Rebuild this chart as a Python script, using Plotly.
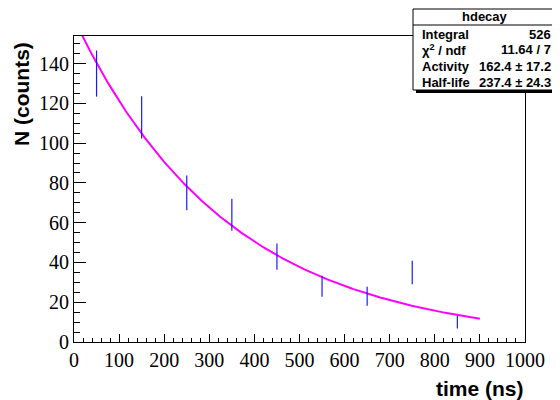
import numpy as np
import plotly.graph_objects as go

# ---- data ----
bin_centers = [50, 150, 250, 350, 450, 550, 650, 750, 850]
counts = [135, 113, 75, 64, 43, 28, 23, 35, 10]
count_errors = [11.6, 10.6, 8.7, 8.0, 6.6, 5.3, 4.8, 5.9, 3.2]

fit_activity = 162.4
fit_half_life = 237.4
fit_t_max = 900

stats_title = "hdecay"
stats_labels = ["Integral", "χ<sup>2</sup> / ndf", "Activity", "Half-life"]
stats_values = ["526", "11.64 / 7", "162.4 ± 17.2", "237.4 ± 24.3"]

x_range = [0, 1000]
y_range = [0, 153.9]

# ---- layout geometry (reference pixels; page body adds an 8px offset) ----
OFF = 8
W, H = 560 - OFF, 400 - OFF
PL, PR, PT, PB = 74, 525, 36, 342


def px(x):
    return (x - PL) / (PR - PL)


def py(y):
    return (PB - y) / (PB - PT)


fit_t = np.linspace(0, fit_t_max, 400)
fit_y = fit_activity * np.exp(-fit_t * np.log(2) / fit_half_life)

fig = go.Figure()
fig.add_trace(go.Scatter(
    x=fit_t, y=fit_y, mode="lines",
    line=dict(color="#ff00ff", width=2), hoverinfo="skip", showlegend=False,
))
fig.add_trace(go.Scatter(
    x=bin_centers, y=counts, mode="markers",
    marker=dict(size=1, color="rgba(0,0,0,0)"),
    error_y=dict(type="data", array=count_errors, visible=True,
                 color="#1a1aff", thickness=1.2, width=0),
    showlegend=False,
))

tickfont = dict(family="Times New Roman", size=20, color="black")
fig.update_xaxes(
    range=x_range, dtick=100, tick0=0, ticks="inside", ticklen=8, tickwidth=1,
    tickcolor="black", showline=True, linecolor="black", linewidth=1, mirror=True,
    showgrid=False, zeroline=False, tickfont=tickfont,
    minor=dict(dtick=20, ticks="inside", ticklen=4, tickcolor="black", showgrid=False),
)
fig.update_yaxes(
    range=y_range, dtick=20, tick0=0, ticks="inside", ticklen=12, tickwidth=1,
    tickcolor="black", showline=True, linecolor="black", linewidth=1, mirror=True,
    showgrid=False, zeroline=False, tickfont=tickfont,
    minor=dict(dtick=5, ticks="inside", ticklen=6, tickcolor="black", showgrid=False),
)

bold = dict(family="Liberation Sans, Arial, sans-serif", size=21, color="black")
annotations = [
    dict(text="<b>N (counts)</b>", textangle=-90, x=px(21), y=py(94),
         xref="paper", yref="paper", showarrow=False, xanchor="center", yanchor="middle",
         font=bold),
    dict(text="<b>time (ns)</b>", x=px(526), y=py(388),
         xref="paper", yref="paper", showarrow=False, xanchor="right", yanchor="middle",
         font=bold),
]

# stats box
BX0, BX1, BY0, BY1 = 413, 556, 9, 90
shapes = [
    dict(type="rect", xref="paper", yref="paper", x0=px(BX0 + 3), x1=px(BX1 + 3),
         y0=py(BY0 + 3), y1=py(BY1 + 3), fillcolor="black", line=dict(width=0), layer="above"),
    dict(type="rect", xref="paper", yref="paper", x0=px(BX0), x1=px(BX1),
         y0=py(BY0), y1=py(BY1), fillcolor="white", line=dict(color="black", width=1),
         layer="above"),
    dict(type="line", xref="paper", yref="paper", x0=px(BX0), x1=px(BX1),
         y0=py(25), y1=py(25), line=dict(color="black", width=1), layer="above"),
]
sfont = dict(family="Liberation Sans, Arial, sans-serif", size=13, color="black")
annotations.append(dict(text="<b>" + stats_title + "</b>", x=px((BX0 + BX1) / 2), y=py(16),
                        xref="paper", yref="paper", showarrow=False, xanchor="center",
                        yanchor="middle", font=sfont))
row_y = [34, 50, 66, 82]
for lab, val, ry in zip(stats_labels, stats_values, row_y):
    annotations.append(dict(text="<b>" + lab + "</b>", x=px(420), y=py(ry), xref="paper",
                            yref="paper", showarrow=False, xanchor="left", yanchor="middle",
                            font=sfont))
    annotations.append(dict(text="<b>" + val + "</b>", x=px(553), y=py(ry), xref="paper",
                            yref="paper", showarrow=False, xanchor="right", yanchor="middle",
                            font=sfont))

fig.update_layout(
    width=W, height=H, autosize=False,
    margin=dict(l=PL - OFF, r=560 - PR, t=PT - OFF, b=400 - PB, pad=0),
    plot_bgcolor="white", paper_bgcolor="white",
    shapes=shapes, annotations=annotations, showlegend=False,
)

fig.write_html("out.html")
